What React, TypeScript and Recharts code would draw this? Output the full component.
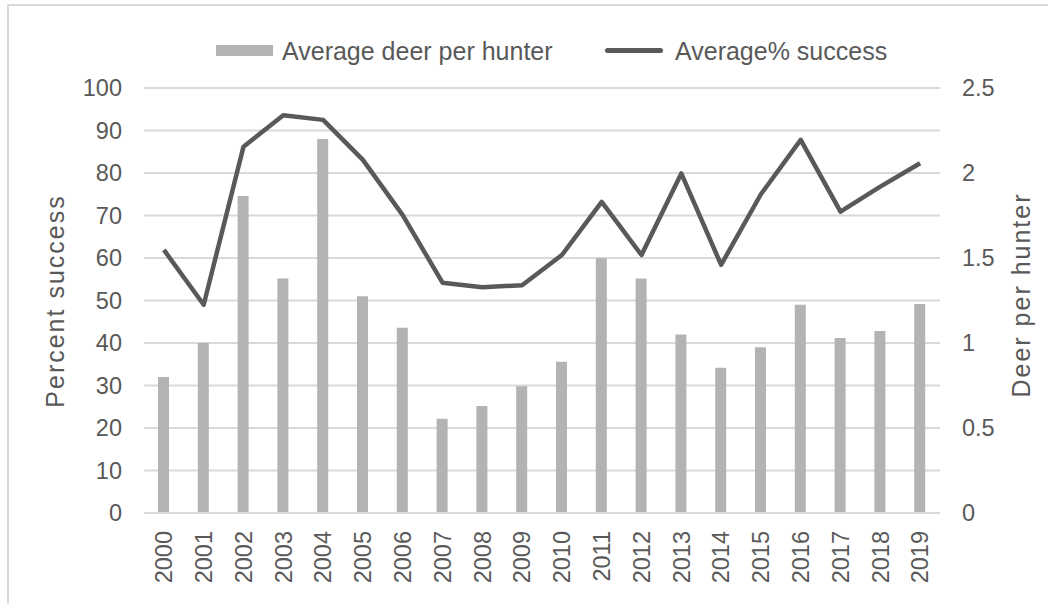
import { ComposedChart, Bar, Line, XAxis, YAxis, CartesianGrid } from "recharts";

const YEARS = [
  "2000", "2001", "2002", "2003", "2004", "2005", "2006", "2007", "2008", "2009",
  "2010", "2011", "2012", "2013", "2014", "2015", "2016", "2017", "2018", "2019",
];
const DEER_PER_HUNTER = [
  0.8, 1.0, 1.865, 1.38, 2.2, 1.275, 1.09, 0.555, 0.63, 0.745,
  0.89, 1.5, 1.38, 1.05, 0.855, 0.975, 1.225, 1.03, 1.07, 1.23,
];
const SUCCESS_PCT = [
  61.9, 49.0, 86.2, 93.6, 92.5, 83.1, 70.1, 54.2, 53.1, 53.6,
  60.7, 73.2, 60.7, 79.9, 58.4, 75.0, 87.8, 70.9, 76.8, 82.3,
];
const LEFT_TICKS = [0, 10, 20, 30, 40, 50, 60, 70, 80, 90, 100];
const RIGHT_TICKS = [0, 0.5, 1, 1.5, 2, 2.5];

const data = YEARS.map((year, i) => ({
  year,
  deer: DEER_PER_HUNTER[i],
  success: SUCCESS_PCT[i],
}));

const FONT = "'Liberation Sans', Arial, sans-serif";
const TEXT = "#595959";
const GRID = "#d9d9d9";
const BAR = "#b3b3b3";

function YearTick({ x, y, payload }: any) {
  return (
    <text
      x={x}
      y={y}
      dy="0.35em"
      textAnchor="end"
      transform={`rotate(-90, ${x}, ${y})`}
      fill={TEXT}
      fontSize={23.5}
      fontFamily={FONT}
    >
      {payload.value}
    </text>
  );
}

function AxisTitle({ cx, cy, text }: { cx: number; cy: number; text: string }) {
  return (
    <text
      x={cx}
      y={cy}
      dy="0.35em"
      textAnchor="middle"
      transform={`rotate(-90, ${cx}, ${cy})`}
      fill={TEXT}
      fontSize={25}
      letterSpacing={2}
      fontFamily={FONT}
    >
      {text}
    </text>
  );
}

export default function App() {
  return (
    <div
      style={{
        position: "absolute",
        left: 0,
        top: 0,
        width: 1048,
        height: 604,
        background: "#fff",
        overflow: "hidden",
        fontFamily: FONT,
      }}
    >
      <div
        style={{
          position: "absolute",
          left: 7,
          top: 4,
          width: 1200,
          height: 800,
          border: `2px solid ${GRID}`,
        }}
      />

      <div style={{ position: "absolute", left: 0, top: 0 }}>
        <ComposedChart
          width={1048}
          height={604}
          data={data}
          margin={{ top: 88, right: 28, bottom: 11, left: 64 }}
        >
          <CartesianGrid yAxisId="left" vertical={false} stroke={GRID} strokeWidth={2} />
          <XAxis
            dataKey="year"
            height={80}
            interval={0}
            tickLine={false}
            axisLine={{ stroke: GRID, strokeWidth: 2 }}
            tickMargin={12}
            tick={<YearTick />}
          />
          <YAxis
            yAxisId="left"
            orientation="left"
            width={80}
            domain={[0, 100]}
            ticks={LEFT_TICKS}
            axisLine={false}
            tickLine={false}
            tickMargin={16}
            tick={{ fill: TEXT, fontSize: 23.5, fontFamily: FONT }}
            label={{ content: () => <AxisTitle cx={55} cy={301} text="Percent success" /> }}
          />
          <YAxis
            yAxisId="right"
            orientation="right"
            width={80}
            domain={[0, 2.5]}
            ticks={RIGHT_TICKS}
            axisLine={false}
            tickLine={false}
            tickMargin={16}
            tick={{ fill: TEXT, fontSize: 23.5, fontFamily: FONT }}
            label={{ content: () => <AxisTitle cx={1021} cy={295} text="Deer per hunter" /> }}
          />
          <Bar
            yAxisId="right"
            dataKey="deer"
            fill={BAR}
            barSize={11}
            isAnimationActive={false}
          />
          <Line
            yAxisId="left"
            dataKey="success"
            type="linear"
            stroke={TEXT}
            strokeWidth={4.5}
            strokeLinejoin="round"
            dot={false}
            isAnimationActive={false}
          />
        </ComposedChart>
      </div>

      {/* legend */}
      <div style={{ position: "absolute", left: 216, top: 45, width: 57, height: 11, background: BAR }} />
      <div
        style={{
          position: "absolute",
          left: 282,
          top: 36,
          lineHeight: "30px",
          fontSize: 25,
          color: TEXT,
          whiteSpace: "nowrap",
        }}
      >
        Average deer per hunter
      </div>
      <div
        style={{
          position: "absolute",
          left: 605,
          top: 48,
          width: 58,
          height: 5,
          borderRadius: 3,
          background: TEXT,
        }}
      />
      <div
        style={{
          position: "absolute",
          left: 675,
          top: 36,
          lineHeight: "30px",
          fontSize: 25,
          color: TEXT,
          whiteSpace: "nowrap",
        }}
      >
        Average% success
      </div>
    </div>
  );
}
